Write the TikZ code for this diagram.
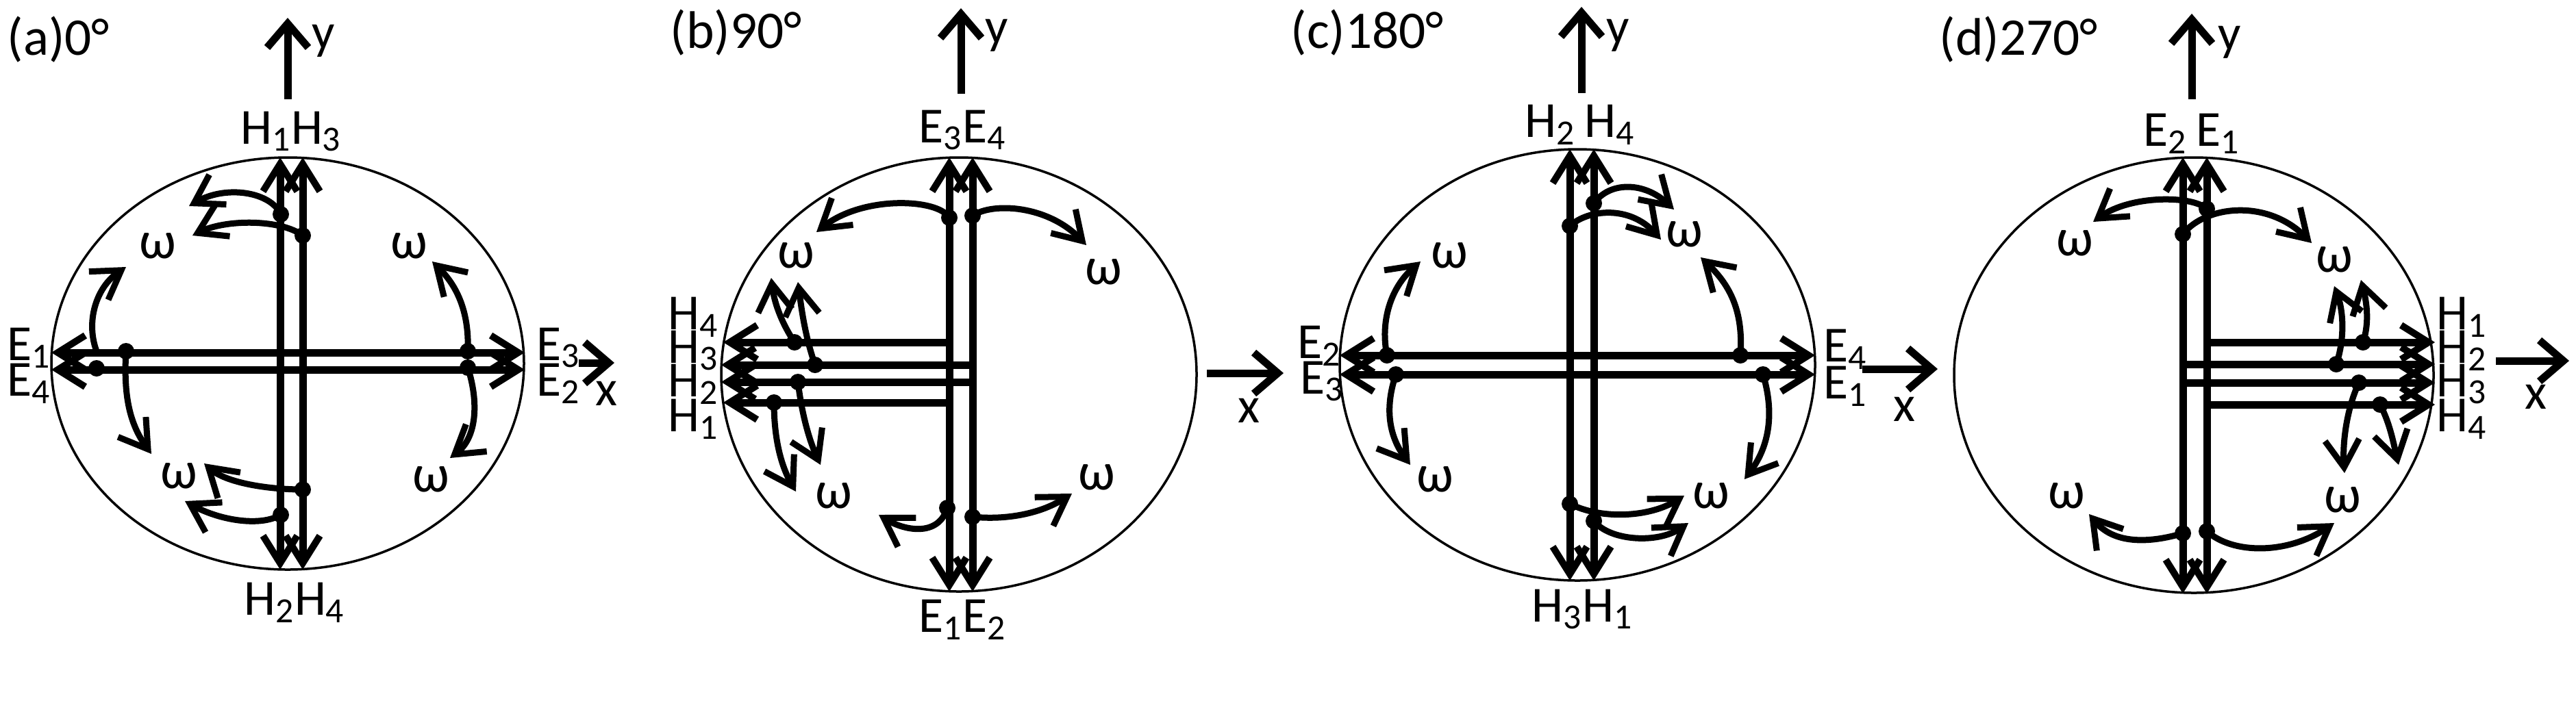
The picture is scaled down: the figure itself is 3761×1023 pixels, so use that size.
\documentclass[tikz,border=0pt]{standalone}
\usepackage{fontspec}
\setmainfont{Carlito}
\usetikzlibrary{arrows.meta}
\begin{document}
\begin{tikzpicture}[x=0.1mm,y=-0.1mm,
  ring/.style={line width=0.35mm},
  fld/.style={line width=1.1mm,{Straight Barb[length=4mm,width=5mm,line width=1mm]}-{Straight Barb[length=4mm,width=5mm,line width=1mm]}},
  fldone/.style={line width=1.1mm,-{Straight Barb[length=4mm,width=5mm,line width=1mm]}},
  axis/.style={line width=1.1mm,-{Straight Barb[length=3.5mm,width=6mm,line width=1.1mm]}},
  rot/.style={line width=0.9mm,-{Straight Barb[length=4mm,width=5mm,line width=0.9mm]}},
  lbl/.style={font=\fontsize{21}{23}\selectfont,inner sep=0pt},
  om/.style={font=\fontsize{22}{24}\selectfont,inner sep=0pt},
  ttl/.style={font=\fontsize{22}{24}\selectfont,inner sep=0pt,anchor=west}]
\useasboundingbox (0,0) rectangle (3761,1023);
\newcommand{\dt}[1]{\fill #1 circle (1.2mm);}
% ================= (a) =================
\node[ttl] (ta) at (10,58) {(a)0°};
\draw[ring] (420,531) ellipse [x radius=345,y radius=301];
\draw[fld] (409,230) -- (409,832);
\draw[fld] (442,230) -- (442,832);
\draw[fld] (75,515) -- (766,515);
\draw[fld] (75,540) -- (766,540);
\draw[axis] (420,145) -- (420,26);
\node[lbl] (ya) at (472,60) {y};
\draw[axis] (845,530) -- (897,530);
\node[lbl] (xa) at (885,575) {x};
\node[lbl] (a1) at (425,192) {H\textsubscript{1}H\textsubscript{3}};
\node[lbl] (a2) at (430,880) {H\textsubscript{2}H\textsubscript{4}};
\node[lbl,anchor=west] (a3) at (10,508) {E\textsubscript{1}};
\node[lbl,anchor=west] (a4) at (10,560) {E\textsubscript{4}};
\node[lbl,anchor=west] (a5) at (783,508) {E\textsubscript{3}};
\node[lbl,anchor=west] (a6) at (783,560) {E\textsubscript{2}};
\dt{(410,313)}\dt{(442,344)}\dt{(184,513)}\dt{(141,538)}\dt{(683,513)}\dt{(683,537)}\dt{(442,715)}\dt{(410,752)}
\draw[rot] (410,313) .. controls (395,280) and (330,270) .. (276,301);
\draw[rot] (442,344) .. controls (410,320) and (330,320) .. (281,344);
\draw[rot] (141,513) .. controls (125,470) and (140,420) .. (184,390);
\draw[rot] (184,513) .. controls (180,580) and (190,620) .. (221,663);
\draw[rot] (442,715) .. controls (390,715) and (330,705) .. (298,677);
\draw[rot] (410,752) .. controls (380,770) and (320,760) .. (270,732);
\draw[rot] (683,513) .. controls (685,460) and (670,420) .. (631,382);
\draw[rot] (683,537) .. controls (700,590) and (695,640) .. (657,669);
\node[om] (wa1) at (230,359) {ω};
\node[om] (wa2) at (597,359) {ω};
\node[om] (wa3) at (261,695) {ω};
\node[om] (wa4) at (629,700) {ω};
% ================= (b) =================
\node[ttl] (tb) at (978,48) {(b)90°};
\draw[ring] (1400,547) ellipse [x radius=347,y radius=317];
\draw[fld] (1386,230) -- (1386,864);
\draw[fld] (1420,230) -- (1420,864);
\draw[fldone] (1386,500) -- (1056,500);
\draw[fldone] (1420,533) -- (1053,533);
\draw[fldone] (1420,558) -- (1053,558);
\draw[fldone] (1386,588) -- (1056,588);
\draw[axis] (1403,137) -- (1403,12);
\node[lbl] (yb) at (1455,52) {y};
\draw[axis] (1762,545) -- (1874,545);
\node[lbl] (xb) at (1823,600) {x};
\node[lbl] (b1) at (1405,190) {E\textsubscript{3}E\textsubscript{4}};
\node[lbl] (b2) at (1405,905) {E\textsubscript{1}E\textsubscript{2}};
\node[lbl] (b3) at (1012,463) {H\textsubscript{4}};
\node[lbl] (b4) at (1012,512) {H\textsubscript{3}};
\node[lbl] (b5) at (1012,561) {H\textsubscript{2}};
\node[lbl] (b6) at (1012,612) {H\textsubscript{1}};
\dt{(1386,318)}\dt{(1420,315)}\dt{(1383,742)}\dt{(1420,755)}\dt{(1160,500)}\dt{(1190,533)}\dt{(1165,558)}\dt{(1130,588)}
\draw[rot] (1386,318) .. controls (1370,290) and (1260,285) .. (1192,339);
\draw[rot] (1420,315) .. controls (1450,295) and (1530,300) .. (1586,358);
\draw[rot] (1383,742) .. controls (1370,785) and (1320,775) .. (1283,752);
\draw[rot] (1420,755) .. controls (1470,760) and (1520,750) .. (1565,721);
\draw[rot] (1160,500) .. controls (1140,470) and (1130,440) .. (1126,406);
\draw[rot] (1190,533) .. controls (1175,490) and (1170,450) .. (1165,412);
\draw[rot] (1165,558) .. controls (1170,600) and (1180,640) .. (1198,679);
\draw[rot] (1130,588) .. controls (1130,640) and (1140,680) .. (1162,718);
\node[om] (wb1) at (1162,373) {ω};
\node[om] (wb2) at (1611,397) {ω};
\node[om] (wb3) at (1217,724) {ω};
\node[om] (wb4) at (1601,697) {ω};
% ================= (c) =================
\node[ttl] (tc) at (1884,48) {(c)180°};
\draw[ring] (2303,533) ellipse [x radius=347,y radius=315];
\draw[fld] (2292,218) -- (2292,848);
\draw[fld] (2327,218) -- (2327,848);
\draw[fld] (1956,519) -- (2650,519);
\draw[fld] (1956,547) -- (2650,547);
\draw[axis] (2309,136) -- (2309,10);
\node[lbl] (yc) at (2362,52) {y};
\draw[axis] (2719,539) -- (2829,539);
\node[lbl] (xc) at (2780,598) {x};
\node[lbl] (c1) at (2307,182) {H\textsubscript{2}\,H\textsubscript{4}};
\node[lbl] (c2) at (2310,890) {H\textsubscript{3}H\textsubscript{1}};
\node[lbl,anchor=west] (c3) at (1894,505) {E\textsubscript{2}};
\node[lbl,anchor=west] (c4) at (1898,557) {E\textsubscript{3}};
\node[lbl,anchor=west] (c5) at (2662,510) {E\textsubscript{4}};
\node[lbl,anchor=west] (c6) at (2662,564) {E\textsubscript{1}};
\dt{(2292,330)}\dt{(2327,297)}\dt{(2025,519)}\dt{(2038,547)}\dt{(2541,519)}\dt{(2574,547)}\dt{(2292,736)}\dt{(2327,761)}
\draw[rot] (2327,297) .. controls (2350,265) and (2400,265) .. (2444,306);
\draw[rot] (2292,330) .. controls (2320,305) and (2380,300) .. (2425,350);
\draw[rot] (2541,519) .. controls (2545,460) and (2530,420) .. (2483,376);
\draw[rot] (2574,547) .. controls (2590,600) and (2585,650) .. (2547,700);
\draw[rot] (2292,736) .. controls (2340,760) and (2410,755) .. (2459,724);
\draw[rot] (2327,761) .. controls (2350,790) and (2420,795) .. (2465,764);
\draw[rot] (2025,519) .. controls (2015,470) and (2030,420) .. (2074,382);
\draw[rot] (2038,547) .. controls (2020,600) and (2030,640) .. (2059,679);
\node[om] (wc1) at (2116,373) {ω};
\node[om] (wc2) at (2459,342) {ω};
\node[om] (wc3) at (2095,700) {ω};
\node[om] (wc4) at (2498,724) {ω};
% ================= (d) =================
\node[ttl] (td) at (2831,58) {(d)270°};
\draw[ring] (3203,548) ellipse [x radius=350,y radius=318];
\draw[fld] (3187,230) -- (3187,867);
\draw[fld] (3222,230) -- (3222,867);
\draw[fldone] (3222,500) -- (3555,500);
\draw[fldone] (3187,532) -- (3555,532);
\draw[fldone] (3187,559) -- (3555,559);
\draw[fldone] (3222,591) -- (3555,591);
\draw[axis] (3200,145) -- (3200,20);
\node[lbl] (yd) at (3255,62) {y};
\draw[axis] (3644,527) -- (3751,527);
\node[lbl] (xd) at (3702,580) {x};
\node[lbl] (d1) at (3200,195) {E\textsubscript{2}\,E\textsubscript{1}};
\node[lbl] (d3) at (3594,463) {H\textsubscript{1}};
\node[lbl] (d4) at (3594,512) {H\textsubscript{2}};
\node[lbl] (d5) at (3594,561) {H\textsubscript{3}};
\node[lbl] (d6) at (3594,612) {H\textsubscript{4}};
\dt{(3187,342)}\dt{(3222,305)}\dt{(3187,779)}\dt{(3222,776)}\dt{(3411,532)}\dt{(3450,500)}\dt{(3444,559)}\dt{(3475,591)}
\draw[rot] (3222,305) .. controls (3200,285) and (3110,285) .. (3056,324);
\draw[rot] (3187,342) .. controls (3220,300) and (3310,290) .. (3375,355);
\draw[rot] (3187,779) .. controls (3150,790) and (3090,800) .. (3050,751);
\draw[rot] (3222,776) .. controls (3260,810) and (3340,810) .. (3408,764);
\draw[rot] (3411,532) .. controls (3425,490) and (3420,450) .. (3408,418);
\draw[rot] (3450,500) .. controls (3460,470) and (3455,440) .. (3447,409);
\draw[rot] (3444,559) .. controls (3425,600) and (3420,650) .. (3423,691);
\draw[rot] (3475,591) .. controls (3490,620) and (3495,650) .. (3502,679);
\node[om] (wd1) at (3029,355) {ω};
\node[om] (wd2) at (3408,379) {ω};
\node[om] (wd3) at (3017,724) {ω};
\node[om] (wd4) at (3420,730) {ω};
\end{tikzpicture}
\end{document}
